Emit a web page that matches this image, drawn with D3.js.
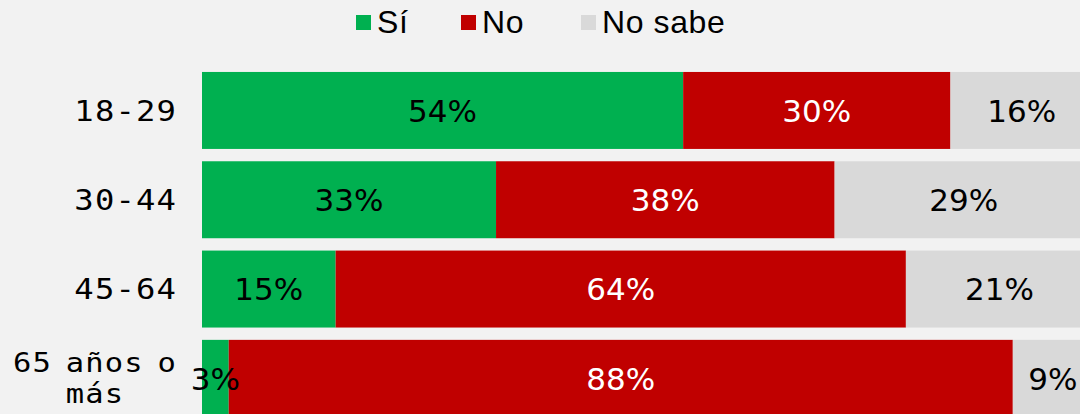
<!DOCTYPE html>
<html>
<head>
<meta charset="utf-8">
<script src="https://cdn.jsdelivr.net/npm/d3@7"></script>
<style>
  html, body { margin: 0; padding: 0; background: #f2f2f2; overflow: hidden; }
  svg { display: block; }
</style>
</head>
<body>
<svg id="chart" width="1080" height="414"></svg>
<script>
// Age groups and survey answers (percent)
const categories = ["18-29", "30-44", "45-64", "65 años o más"];
const categoryLines = [["18-29"], ["30-44"], ["45-64"], ["65 años o", "más"]];
const seriesNames = ["Sí", "No", "No sabe"];
const si = [54, 33, 15, 3];
const no = [30, 38, 64, 88];
const noSabe = [16, 29, 21, 9];
const colors = ["#00b050", "#c00000", "#d9d9d9"];
const labelColors = ["#000000", "#ffffff", "#000000"];

const svg = d3.select("#chart");

const rows = categories.map((c, i) => ({ cat: c, lines: categoryLines[i], values: [si[i], no[i], noSabe[i]] }));

const x = d3.scaleLinear().domain([0, 100]).range([202, 1093]);
const y = d3.scaleBand().domain(categories).range([65.8, 423]).paddingInner(0.138).paddingOuter(0.069);

const stack = d3.stack().keys([0, 1, 2]).value((d, k) => d.values[k]);
const layers = stack(rows);

const plot = svg.append("g");
layers.forEach((layer, k) => {
  plot.append("g").selectAll("rect").data(layer).join("rect")
    .attr("x", d => x(d[0]))
    .attr("y", d => y(d.data.cat))
    .attr("width", d => x(d[1]) - x(d[0]))
    .attr("height", y.bandwidth())
    .attr("fill", colors[k]);
});

// Value labels centred on each segment
layers.forEach((layer, k) => {
  plot.append("g").selectAll("text").data(layer).join("text")
    .attr("x", d => (x(d[0]) + x(d[1])) / 2)
    .attr("y", d => y(d.data.cat) + y.bandwidth() / 2)
    .attr("dy", "0.36em")
    .attr("text-anchor", "middle")
    .attr("font-family", "'DejaVu Sans', sans-serif")
    .attr("font-size", 31)
    .attr("fill", labelColors[k])
    .text(d => (d[1] - d[0]) + "%");
});

// Category axis: wide, horizontally stretched labels
const stretch = 1.15;
const axisG = svg.append("g");
rows.forEach(r => {
  const cy = y(r.cat) + y.bandwidth() / 2;
  const n = r.lines.length;
  if (n === 1) {
    axisG.append("text")
      .attr("transform", `translate(177,${cy}) scale(${stretch},1)`)
      .attr("dy", "0.36em")
      .attr("text-anchor", "end")
      .attr("font-family", "'DejaVu Sans Mono', monospace")
      .attr("font-size", 28)
      .attr("letter-spacing", 1)
      .attr("fill", "#000")
      .text(r.lines[0]);
  } else {
    const lh = 31;
    r.lines.forEach((ln, j) => {
      axisG.append("text")
        .attr("transform", `translate(95,${cy + (j - (n - 1) / 2) * lh}) scale(${stretch},1)`)
        .attr("dy", "0.36em")
        .attr("text-anchor", "middle")
        .attr("font-family", "'DejaVu Sans Mono', monospace")
        .attr("font-size", 26.5)
        .attr("letter-spacing", 1)
        .attr("word-spacing", -5)
        .attr("fill", "#000")
        .text(ln);
    });
  }
});

// Legend
const legendX = [356, 461, 581];
const legend = svg.append("g");
seriesNames.forEach((name, k) => {
  legend.append("rect")
    .attr("x", legendX[k]).attr("y", 15)
    .attr("width", 15).attr("height", 15)
    .attr("fill", colors[k]);
  legend.append("text")
    .attr("x", legendX[k] + 21).attr("y", 33)
    .attr("font-family", "'Liberation Sans', Arial, sans-serif")
    .attr("font-size", 32)
    .attr("letter-spacing", 0.6)
    .attr("fill", "#000")
    .text(name);
});
</script>
</body>
</html>
